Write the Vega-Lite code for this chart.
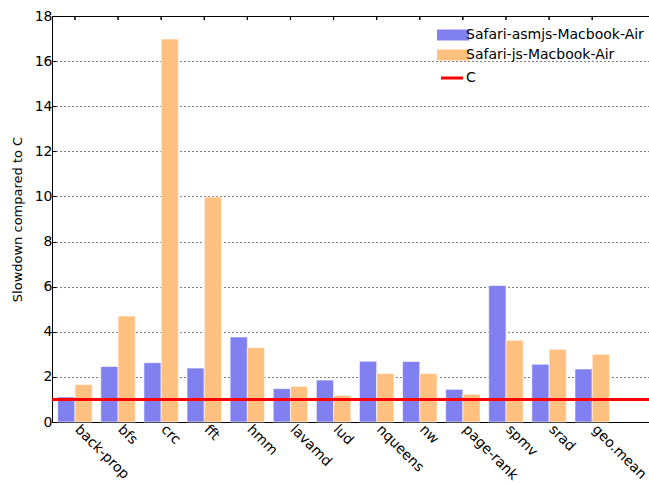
{
  "$schema": "https://vega.github.io/schema/vega-lite/v6.json",
  "width": 597,
  "height": 406,
  "autosize": "none",
  "padding": {"left": 52, "top": 16, "right": 0, "bottom": 63},
  "background": "white",
  "config": {
    "font": "DejaVu Sans",
    "view": {"stroke": "black", "strokeWidth": 1},
    "axis": {"domainColor": "black", "tickColor": "black", "labelColor": "black", "titleColor": "black", "labelFont": "DejaVu Sans", "titleFont": "DejaVu Sans"}
  },
  "data": {
    "values": [
      {"benchmark": "back-prop", "series": "Safari-asmjs-Macbook-Air", "slowdown": 1.11},
      {"benchmark": "back-prop", "series": "Safari-js-Macbook-Air", "slowdown": 1.66},
      {"benchmark": "bfs", "series": "Safari-asmjs-Macbook-Air", "slowdown": 2.46},
      {"benchmark": "bfs", "series": "Safari-js-Macbook-Air", "slowdown": 4.70},
      {"benchmark": "crc", "series": "Safari-asmjs-Macbook-Air", "slowdown": 2.63},
      {"benchmark": "crc", "series": "Safari-js-Macbook-Air", "slowdown": 16.98},
      {"benchmark": "fft", "series": "Safari-asmjs-Macbook-Air", "slowdown": 2.39},
      {"benchmark": "fft", "series": "Safari-js-Macbook-Air", "slowdown": 9.97},
      {"benchmark": "hmm", "series": "Safari-asmjs-Macbook-Air", "slowdown": 3.77},
      {"benchmark": "hmm", "series": "Safari-js-Macbook-Air", "slowdown": 3.30},
      {"benchmark": "lavamd", "series": "Safari-asmjs-Macbook-Air", "slowdown": 1.48},
      {"benchmark": "lavamd", "series": "Safari-js-Macbook-Air", "slowdown": 1.58},
      {"benchmark": "lud", "series": "Safari-asmjs-Macbook-Air", "slowdown": 1.86},
      {"benchmark": "lud", "series": "Safari-js-Macbook-Air", "slowdown": 1.18},
      {"benchmark": "nqueens", "series": "Safari-asmjs-Macbook-Air", "slowdown": 2.69},
      {"benchmark": "nqueens", "series": "Safari-js-Macbook-Air", "slowdown": 2.15},
      {"benchmark": "nw", "series": "Safari-asmjs-Macbook-Air", "slowdown": 2.68},
      {"benchmark": "nw", "series": "Safari-js-Macbook-Air", "slowdown": 2.15},
      {"benchmark": "page-rank", "series": "Safari-asmjs-Macbook-Air", "slowdown": 1.45},
      {"benchmark": "page-rank", "series": "Safari-js-Macbook-Air", "slowdown": 1.23},
      {"benchmark": "spmv", "series": "Safari-asmjs-Macbook-Air", "slowdown": 6.05},
      {"benchmark": "spmv", "series": "Safari-js-Macbook-Air", "slowdown": 3.62},
      {"benchmark": "srad", "series": "Safari-asmjs-Macbook-Air", "slowdown": 2.56},
      {"benchmark": "srad", "series": "Safari-js-Macbook-Air", "slowdown": 3.22},
      {"benchmark": "geo.mean", "series": "Safari-asmjs-Macbook-Air", "slowdown": 2.35},
      {"benchmark": "geo.mean", "series": "Safari-js-Macbook-Air", "slowdown": 3.00}
    ]
  },
  "layer": [
    {
      "mark": {"type": "bar", "stroke": "white", "strokeOpacity": 0.6, "strokeWidth": 1},
      "encoding": {
        "x": {
          "field": "benchmark",
          "type": "nominal",
          "sort": null,
          "scale": {"paddingInner": 0.2, "paddingOuter": 0.525, "align": 0.126},
          "axis": {
            "title": null,
            "labelAngle": 45,
            "labelAlign": "left",
            "labelBaseline": "top",
            "labelFontSize": 14,
            "labelPadding": 4,
            "labelOffset": 7,
            "tickSize": -4,
            "domainColor": "black"
          }
        },
        "xOffset": {
          "field": "series",
          "type": "nominal",
          "sort": ["Safari-asmjs-Macbook-Air", "Safari-js-Macbook-Air"],
          "scale": {"paddingInner": 0, "paddingOuter": 0}
        },
        "y": {
          "field": "slowdown",
          "type": "quantitative",
          "scale": {"domain": [0, 18], "nice": false},
          "axis": {
            "title": "Slowdown compared to C",
            "titleFontSize": 13,
            "titleFontWeight": "normal",
            "titlePadding": 10,
            "values": [0, 2, 4, 6, 8, 10, 12, 14, 16, 18],
            "labelFontSize": 14,
            "labelPadding": 4,
            "tickSize": -4,
            "grid": true,
            "gridColor": "black",
            "gridDash": [1, 3],
            "gridWidth": 1,
            "gridOpacity": 1
          }
        },
        "fill": {
          "field": "series",
          "type": "nominal",
          "scale": {
            "domain": ["Safari-asmjs-Macbook-Air", "Safari-js-Macbook-Air"],
            "range": ["#8080f0", "#ffc080"]
          },
          "legend": {
            "title": null,
            "orient": "none",
            "legendX": 394,
            "legendY": 12,
            "labelFontSize": 14,
            "labelColor": "black",
            "labelFont": "DejaVu Sans",
            "labelLimit": 0,
            "symbolType": "M-3.2,-1.1H3.2V1.1H-3.2Z",
            "symbolSize": 100,
            "symbolStrokeWidth": 0,
            "symbolOpacity": 1,
            "labelOffset": 6,
            "rowPadding": 6
          }
        }
      }
    },
    {
      "mark": {"type": "rule", "color": "black", "strokeWidth": 1},
      "encoding": {
        "x": {"field": "benchmark", "type": "nominal", "sort": null},
        "y": {"datum": 18},
        "y2": {"datum": 17.82}
      }
    },
    {
      "mark": {"type": "rule", "strokeWidth": 3},
      "encoding": {
        "y": {"datum": 1},
        "stroke": {
          "datum": "C",
          "scale": {"domain": ["C"], "range": ["#ff0000"]},
          "legend": {
            "title": null,
            "orient": "none",
            "legendX": 393,
            "legendY": 55,
            "labelFontSize": 14,
            "labelColor": "black",
            "labelFont": "DejaVu Sans",
            "symbolType": "M-2.2,0H2.2",
            "symbolSize": 100,
            "symbolStrokeWidth": 3,
            "labelOffset": 7
          }
        }
      }
    }
  ]
}
